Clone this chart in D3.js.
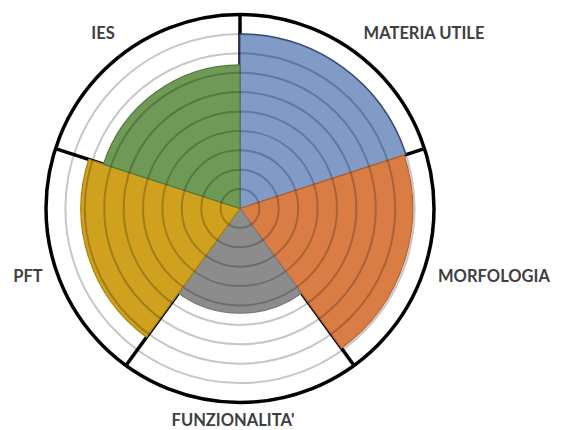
<!DOCTYPE html>
<html>
<head>
<meta charset="utf-8">
<script src="https://cdn.jsdelivr.net/npm/d3@7"></script>
<style>
  body { margin: 0; background: #fff; }
</style>
</head>
<body>
<div id="chart"></div>
<script>
// categories, clockwise from the top
var categories = ["MATERIA UTILE", "MORFOLOGIA", "FUNZIONALITA'", "PFT", "IES"]
var values = [9, 8.9, 5.4, 8.2, 7.4]
var fills = ["#7f9bc6", "#d97d45", "#8c8c8c", "#cfa11e", "#6f9a56"]
var edges = ["#3a5a94", "#b8612a", "#7a7a7a", "#a8800f", "#52793b"]
var gridSteps = [1, 2, 3, 4, 5, 6, 7, 8, 9]

var width = 565, height = 430
var cx = 240, cy = 208.5, radius = 194

var svg = d3.select("#chart").append("svg")
  .attr("width", width)
  .attr("height", height)

var g = svg.append("g")
  .attr("transform", "translate(" + cx + "," + cy + ")")

var r = d3.scaleLinear().domain([0, 10]).range([0, radius])
var ang = d3.scaleBand().domain(categories).range([0, 2 * Math.PI]).padding(0)

// black spokes (under the slices)
g.selectAll("line.spoke")
  .data(categories)
  .enter().append("line")
  .attr("class", "spoke")
  .attr("x1", 0).attr("y1", 0)
  .attr("x2", function(d) { return r(10) * Math.sin(ang(d)) })
  .attr("y2", function(d) { return -r(10) * Math.cos(ang(d)) })
  .attr("stroke", "#000")
  .attr("stroke-width", 3.5)

var arc = d3.arc()
  .innerRadius(0)
  .outerRadius(function(d) { return r(d.value) })
  .startAngle(function(d) { return ang(d.key) })
  .endAngle(function(d) { return ang(d.key) + ang.bandwidth() })

var data = categories.map(function(c, i) { return { key: c, value: values[i], i: i } })

g.selectAll("path.slice")
  .data(data)
  .enter().append("path")
  .attr("class", "slice")
  .attr("d", arc)
  .attr("fill", function(d) { return fills[d.i] })
  .attr("stroke", function(d) { return edges[d.i] })
  .attr("stroke-width", 1.2)
  .attr("stroke-linejoin", "round")

// grid rings on top, translucent so they darken the fills
g.selectAll("circle.ring")
  .data(gridSteps)
  .enter().append("circle")
  .attr("class", "ring")
  .attr("r", function(d) { return r(d) })
  .attr("fill", "none")
  .attr("stroke", "rgba(0,0,0,0.22)")
  .attr("stroke-width", 2)

g.append("circle")
  .attr("r", r(10))
  .attr("fill", "none")
  .attr("stroke", "#000")
  .attr("stroke-width", 3.5)

// labels
var labelPos = {
  "MATERIA UTILE": [424, 33],
  "MORFOLOGIA": [494, 276],
  "FUNZIONALITA'": [233, 420],
  "PFT": [28, 276],
  "IES": [103, 33]
}

svg.selectAll("text.lab")
  .data(categories)
  .enter().append("text")
  .attr("class", "lab")
  .attr("x", function(d) { return labelPos[d][0] })
  .attr("y", function(d) { return labelPos[d][1] })
  .attr("dy", "0.35em")
  .attr("text-anchor", "middle")
  .style("font-family", "Lato, 'Open Sans', sans-serif")
  .style("font-weight", "bold")
  .style("font-size", "16.5px")
  .style("fill", "#404040")
  .text(function(d) { return d })
</script>
</body>
</html>
